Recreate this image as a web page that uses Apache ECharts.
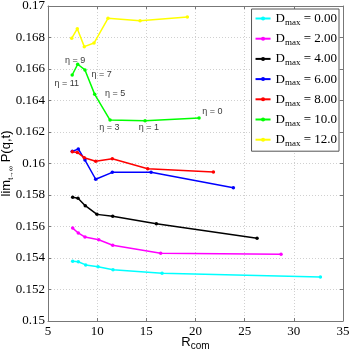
<!DOCTYPE html>
<html>
<head>
<meta charset="utf-8">
<script src="https://cdn.jsdelivr.net/npm/echarts@6/dist/echarts.min.js"></script>
<style>
  html, body { margin: 0; padding: 0; background: #fff; }
  #main { width: 349px; height: 351px; }
</style>
</head>
<body>
<div id="main"></div>
<script>
// D_max = 0.00 (cyan)
const rCyan = [7.51, 8.08, 8.83, 10.09, 11.61, 16.6, 32.7]
const pCyan = [0.15379, 0.15376, 0.15356, 0.15345, 0.15326, 0.15303, 0.15279]
// D_max = 2.00 (magenta)
const rMagenta = [7.51, 8.08, 8.76, 10.16, 11.58, 16.46, 28.7]
const pMagenta = [0.1559, 0.15559, 0.15533, 0.15516, 0.15481, 0.1543, 0.15424]
// D_max = 4.00 (black)
const rBlack = [7.51, 8.05, 8.79, 9.98, 11.58, 16.02, 26.26]
const pBlack = [0.15785, 0.1578, 0.15732, 0.15677, 0.15665, 0.15618, 0.15525]
// D_max = 6.00 (blue)
const rBlue = [7.47, 8.08, 8.76, 9.85, 11.54, 15.48, 23.85]
const pBlue = [0.16077, 0.16092, 0.16022, 0.159, 0.15944, 0.15944, 0.15846]
// D_max = 8.00 (red)
const rRed = [7.47, 7.98, 8.69, 9.85, 11.54, 15.14, 21.82]
const pRed = [0.16075, 0.1607, 0.16037, 0.16014, 0.1603, 0.15967, 0.15946]
// D_max = 10.0 (green)
const rGreen = [7.46, 8.02, 8.76, 9.75, 11.31, 14.87, 20.36]
const pGreen = [0.16562, 0.1663, 0.16594, 0.16439, 0.16276, 0.16272, 0.16289]
// D_max = 12.0 (yellow)
const rYellow = [7.41, 7.98, 8.69, 9.68, 11.1, 14.36, 19.17]
const pYellow = [0.16795, 0.16856, 0.16742, 0.16765, 0.16922, 0.16907, 0.1693]

const legendNames = ['0.00', '2.00', '4.00', '6.00', '8.00', '10.0', '12.0']
const colors = ['#00ffff', '#ff00ff', '#000000', '#0000ff', '#ff0000', '#00ff00', '#ffff00']

// eta labels along the green curve
const etaText = ['η = 11', 'η = 9', 'η = 7', 'η = 5', 'η = 3', 'η = 1', 'η = 0']
const etaR = [6.9, 7.75, 10.46, 11.82, 11.25, 15.27, 21.71]
const etaP = [0.16509, 0.16657, 0.16562, 0.16446, 0.1623, 0.1623, 0.16333]

const xTicks = { min: 5, max: 35, interval: 5 }
const yTicks = { min: 0.15, max: 0.17, interval: 0.002 }

const allR = [rCyan, rMagenta, rBlack, rBlue, rRed, rGreen, rYellow]
const allP = [pCyan, pMagenta, pBlack, pBlue, pRed, pGreen, pYellow]

function pairs(xs, ys) {
  return xs.map((x, i) => [x, ys[i]])
}

const serif = '"Liberation Serif", "DejaVu Serif", serif'
const sans = '"Liberation Sans", Arial, sans-serif'

let series = allR.map((xs, i) => ({
  name: legendNames[i],
  type: 'line',
  data: pairs(xs, allP[i]),
  color: colors[i],
  symbol: 'circle',
  symbolSize: 3.5,
  lineStyle: { width: 1.5, color: colors[i] },
  itemStyle: { color: colors[i] },
  emphasis: { disabled: true },
  animation: false,
}))

series.push({
  name: 'eta',
  type: 'scatter',
  symbolSize: 0,
  data: etaR.map((x, i) => ({ value: [x, etaP[i]], name: etaText[i] })),
  label: {
    show: true,
    position: 'inside',
    formatter: (p) => p.name,
    fontFamily: sans,
    fontSize: 9,
    color: '#000',
  },
  silent: true,
  animation: false,
})

const axisGray = '#777'
const gridLine = { show: true, lineStyle: { color: '#d0d0d0', type: [1, 2], width: 1 } }

let option = {
  backgroundColor: '#fff',
  animation: false,
  grid: { left: 48, top: 6, right: 6, bottom: 30, containLabel: false, outerBoundsMode: 'none' },
  legend: {
    data: legendNames,
    orient: 'vertical',
    right: 10,
    top: 9,
    padding: [3, 2, 3, 3],
    itemGap: 5.2,
    itemWidth: 15,
    itemHeight: 5,
    backgroundColor: '#fff',
    borderColor: '#555',
    borderWidth: 1,
    borderRadius: 0,
    formatter: (name) => '{d|D}{s|max}{d| = ' + name + '}',
    textStyle: {
      rich: {
        d: { fontFamily: serif, fontSize: 13, color: '#000', lineHeight: 17, verticalAlign: 'middle' },
        s: { fontFamily: serif, fontSize: 9, color: '#000', lineHeight: 17, verticalAlign: 'bottom' },
      },
    },
  },
  xAxis: [
    {
      type: 'value',
      min: xTicks.min,
      max: xTicks.max,
      interval: xTicks.interval,
      name: '{r|R}{s|com}',
      nameLocation: 'middle',
      nameGap: 12,
      nameMoveOverlap: false,
      nameTextStyle: {
        rich: {
          r: { fontFamily: sans, fontSize: 13, color: '#000', lineHeight: 18, verticalAlign: 'middle' },
          s: { fontFamily: sans, fontSize: 10, color: '#000', lineHeight: 18, verticalAlign: 'bottom' },
        },
      },
      axisLine: { show: true, onZero: false, lineStyle: { color: axisGray } },
      axisTick: { show: true, inside: true, length: 3, lineStyle: { color: axisGray } },
      axisLabel: { fontFamily: serif, fontSize: 13, color: '#000', margin: 4 },
      splitLine: gridLine,
    },
    {
      type: 'value',
      position: 'top',
      min: xTicks.min,
      max: xTicks.max,
      interval: xTicks.interval,
      axisLine: { show: true, onZero: false, lineStyle: { color: axisGray } },
      axisTick: { show: true, inside: true, length: 3, lineStyle: { color: axisGray } },
      axisLabel: { show: false },
      splitLine: { show: false },
    },
  ],
  yAxis: [
    {
      type: 'value',
      min: yTicks.min,
      max: yTicks.max,
      interval: yTicks.interval,
      name: '{l|lim}{s|t→∞}{l| P(q,t)}',
      nameLocation: 'middle',
      nameGap: 33,
      nameRotate: 90,
      nameMoveOverlap: false,
      nameTextStyle: {
        rich: {
          l: { fontFamily: sans, fontSize: 13, color: '#000', lineHeight: 18, verticalAlign: 'middle' },
          s: { fontFamily: sans, fontSize: 7, color: '#000', lineHeight: 18, verticalAlign: 'bottom' },
        },
      },
      axisLine: { show: true, onZero: false, lineStyle: { color: axisGray } },
      axisTick: { show: true, inside: true, length: 3, lineStyle: { color: axisGray } },
      axisLabel: { fontFamily: serif, fontSize: 13, color: '#000', margin: 3 },
      splitLine: gridLine,
    },
    {
      type: 'value',
      position: 'right',
      min: yTicks.min,
      max: yTicks.max,
      interval: yTicks.interval,
      axisLine: { show: true, onZero: false, lineStyle: { color: axisGray } },
      axisTick: { show: true, inside: true, length: 3, lineStyle: { color: axisGray } },
      axisLabel: { show: false },
      splitLine: { show: false },
    },
  ],
  series: series,
}

let myChart = echarts.init(document.getElementById('main'), null, { renderer: 'canvas' })
myChart.setOption(option)
</script>
</body>
</html>
